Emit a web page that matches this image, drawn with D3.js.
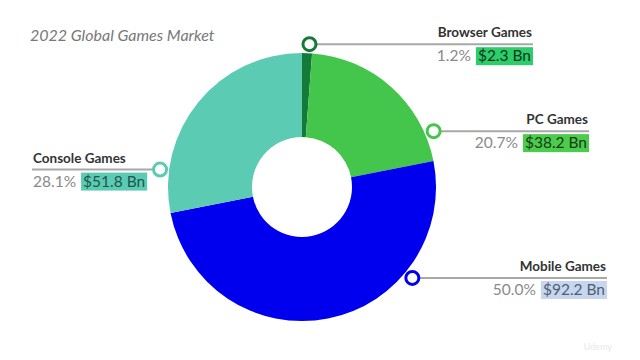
<!DOCTYPE html>
<html>
<head>
<meta charset="utf-8">
<script src="https://cdn.jsdelivr.net/npm/d3@7"></script>
<style>
  body { margin: 0; background: #fff; }
  svg { display: block; font-family: Lato, "Open Sans", sans-serif; }
</style>
</head>
<body>
<svg id="chart" width="640" height="360"></svg>
<script>
// data
var categories = ['Browser Games', 'PC Games', 'Mobile Games', 'Console Games'];
var shares = [1.2, 20.7, 50.0, 28.1];
var revenue = [2.3, 38.2, 92.2, 51.8];
var colors = ['#137a3a', '#44c64c', '#0000ee', '#5ccbb4'];
var boxFills = ['#2ecc6a', '#4ccc4c', '#c6d6ee', '#5ccbb4'];
var boxText = ['#0b3a1c', '#143c14', '#4f5f73', '#1d574c'];

// callout layout: angle of marker (deg, clockwise from top), side, end x of leader line
var markerAngles = [3, 67, 129.5, 277];
var labelSide = ['right', 'right', 'right', 'left'];
var lineEnd = [533, 589, 607, 32];

var svg = d3.select('#chart'),
    cx = 302, cy = 187,
    outerR = 134, innerR = 50, markerR = 143;

svg.append('text')
    .attr('x', 30).attr('y', 41)
    .attr('font-size', 16)
    .attr('font-style', 'italic')
    .attr('fill', '#787878')
    .text('2022 Global Games Market');

var data = categories.map(function(c, i) {
  return {name: c, share: shares[i], value: revenue[i], i: i};
});

var pie = d3.pie().sort(null).value(function(d) { return d.share });
var arc = d3.arc().innerRadius(innerR).outerRadius(outerR);

var g = svg.append('g').attr('transform', 'translate(' + cx + ',' + cy + ')');

g.selectAll('path.slice')
    .data(pie(data))
  .enter().append('path')
    .attr('class', 'slice')
    .attr('d', arc)
    .attr('fill', function(d) { return colors[d.data.i] });

//------------------------------------------------------------
// callouts

data.forEach(function(d, i) {
  var a = markerAngles[i] * Math.PI / 180,
      mx = cx + markerR * Math.sin(a),
      my = cy - markerR * Math.cos(a),
      right = labelSide[i] == 'right',
      ex = lineEnd[i];

  svg.append('line')
      .attr('x1', mx).attr('y1', my)
      .attr('x2', ex).attr('y2', my)
      .attr('stroke', '#a8a8a8')
      .attr('stroke-width', 2);

  svg.append('circle')
      .attr('cx', mx).attr('cy', my)
      .attr('r', 6.5)
      .attr('fill', '#fff')
      .attr('stroke', colors[i])
      .attr('stroke-width', 3);

  svg.append('text')
      .attr('x', right ? ex - 1 : ex + 1)
      .attr('y', my - 7)
      .attr('text-anchor', right ? 'end' : 'start')
      .attr('font-size', 13.5)
      .attr('font-weight', 'bold')
      .attr('fill', '#333')
      .text(d.name);

  var row = svg.append('g'),
      by = my + 17;
  var pct = row.append('text')
      .attr('y', by)
      .attr('font-size', 15.5)
      .attr('fill', '#8a8a8a')
      .text(d3.format('.1f')(d.share) + '%');
  var box = row.append('rect')
      .attr('y', by - 14)
      .attr('height', 18)
      .attr('fill', boxFills[i]);
  var val = row.append('text')
      .attr('y', by)
      .attr('font-size', 15.5)
      .attr('fill', boxText[i])
      .text('$' + d3.format('.1f')(d.value) + ' Bn');

  var pw = pct.node().getComputedTextLength(),
      vw = val.node().getComputedTextLength(),
      gap = 5, pad = 2;
  var x0 = right ? ex - (pw + gap + vw + pad * 2) : ex + 1;
  pct.attr('x', x0);
  box.attr('x', x0 + pw + gap).attr('width', vw + pad * 2);
  val.attr('x', x0 + pw + gap + pad);
});

svg.append('text')
    .attr('x', 612).attr('y', 350)
    .attr('text-anchor', 'end')
    .attr('font-size', 9)
    .attr('fill', '#e8e8e8')
    .text('Udemy');
</script>
</body>
</html>
